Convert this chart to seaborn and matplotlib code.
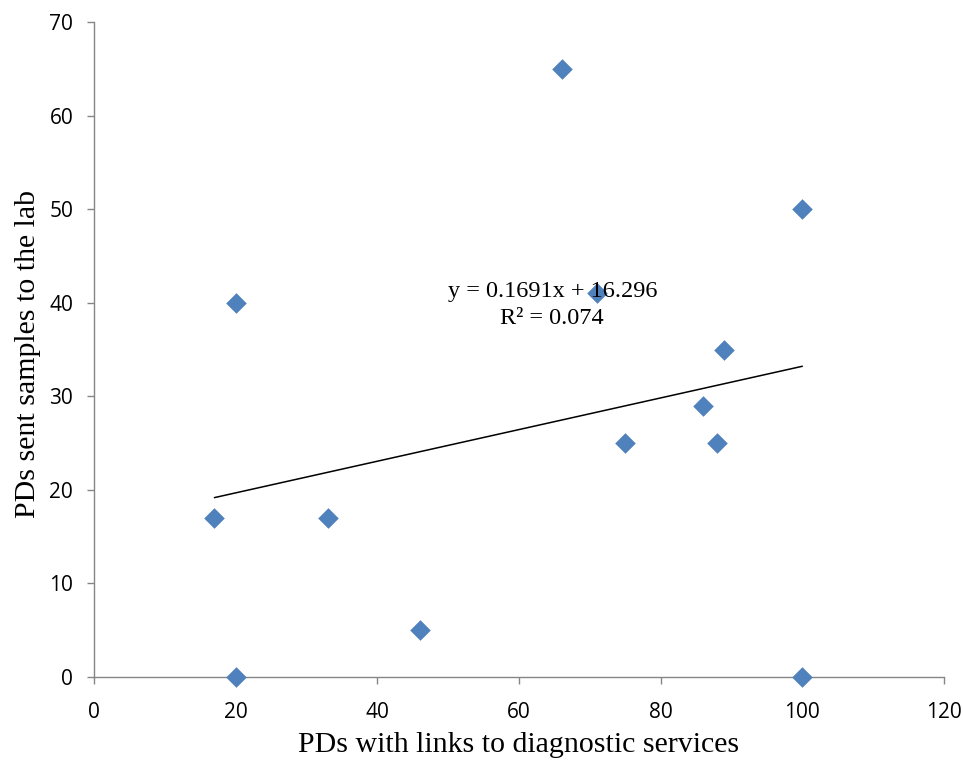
import matplotlib
matplotlib.use("Agg")
import matplotlib.pyplot as plt
import seaborn as sns
import pandas as pd

# Data
pds_links = [17, 20, 20, 33, 46, 66, 71, 75, 86, 88, 89, 100, 100]
pds_samples = [17, 40, 0, 17, 5, 65, 41, 25, 29, 25, 35, 50, 0]
x_ticks = [0, 20, 40, 60, 80, 100, 120]
y_ticks = [0, 10, 20, 30, 40, 50, 60, 70]
equation = "y = 0.1691x + 16.296\nR\u00b2 = 0.074"

df = pd.DataFrame({"x": pds_links, "y": pds_samples})

sns.set_theme(style="white")
plt.rcParams['font.family'] = ['DejaVu Sans']
plt.rcParams['text.color'] = 'black'
plt.rcParams['axes.labelcolor'] = 'black'

fig = plt.figure(figsize=(9.64, 7.64), dpi=100)
ax = fig.add_axes([94/964, 1-677/764, (944-94)/964, (677-22)/764])

sns.regplot(data=df, x="x", y="y", scatter=False, ci=None, truncate=True,
            line_kws=dict(color="black", linewidth=1.1), ax=ax)
sns.scatterplot(data=df, x="x", y="y", marker="D", s=110, color="#4F81BD",
                linewidth=0, ax=ax, zorder=3, clip_on=False)

ax.set_xlim(0, 120)
ax.set_ylim(0, 70)
ax.set_xticks(x_ticks)
ax.set_yticks(y_ticks)

tick_font = dict(family=["Open Sans", "DejaVu Sans"], size=15)
ax.set_xticklabels([str(t) for t in x_ticks], fontdict=tick_font)
ax.set_yticklabels([str(t) for t in y_ticks], fontdict=tick_font)

for side in ["top", "right"]:
    ax.spines[side].set_visible(False)
for side in ["left", "bottom"]:
    ax.spines[side].set_color("#868686")
    ax.spines[side].set_linewidth(1.0)
ax.tick_params(axis="both", which="both", direction="out", length=5, width=1.0,
               color="#868686", labelcolor="black",
               bottom=True, left=True)
ax.tick_params(axis="x", pad=13)
ax.tick_params(axis="y", pad=10)

label_font = dict(family=["Liberation Serif", "DejaVu Serif"], size=21.5)
ax.set_xlabel("PDs with links to diagnostic services", fontdict=label_font, va="center")
ax.set_ylabel("PDs sent samples to the lab", fontdict=label_font, va="center")
ax.xaxis.set_label_coords((519 - 94) / 850, (677 - 745) / 655)
ax.yaxis.set_label_coords((28 - 94) / 850, (677 - 354) / 655)

ax.text(64.7, 39.75, equation, ha="center", va="center", zorder=5, linespacing=1.38,
        fontdict=dict(family=["Liberation Serif", "DejaVu Serif"], size=17.5))

fig.savefig("out.png", dpi=100)
